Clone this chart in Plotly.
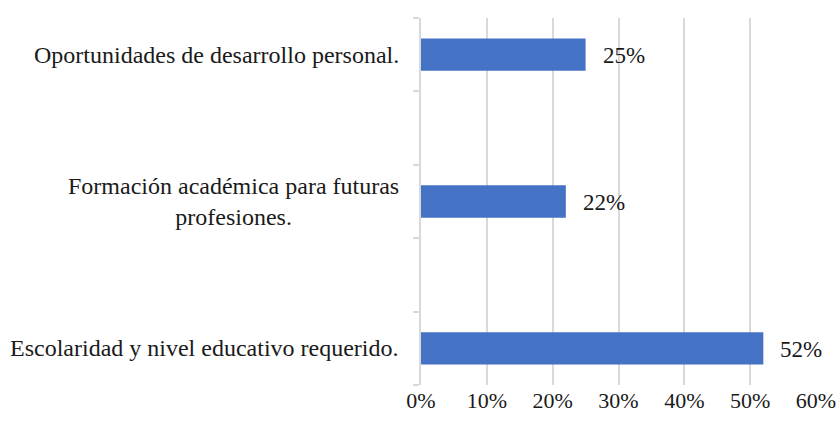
import plotly.graph_objects as go

categories = [
    "Escolaridad y nivel educativo requerido.",
    " ",
    "Formación académica para futuras<br>profesiones.",
    "  ",
    "Oportunidades de desarrollo personal.",
]
bar_categories = [
    "Escolaridad y nivel educativo requerido.",
    "Formación académica para futuras<br>profesiones.",
    "Oportunidades de desarrollo personal.",
]
values = [0.52, 0.22, 0.25]
value_labels = ["52%", "22%", "25%"]
x_tickvals = [0, 0.1, 0.2, 0.3, 0.4, 0.5, 0.6]
x_ticktext = ["0%", "10%", "20%", "30%", "40%", "50%", "60%"]

FONT = "Liberation Serif"
TXT = "#1a1a1a"
GRID = "#d9d9d9"

fig = go.Figure()
fig.add_trace(go.Bar(
    x=values, y=bar_categories, orientation="h",
    marker=dict(color="#4472C4", line=dict(width=0)),
    hoverinfo="skip",
))

for c, v, t in zip(bar_categories, values, value_labels):
    fig.add_annotation(x=v, y=c, xref="x", yref="y", text=t, showarrow=False,
                       xanchor="left", xshift=15, yshift=-1,
                       font=dict(family=FONT, size=23, color=TXT))

for c in categories:
    if c.strip():
        fig.add_annotation(x=0, y=c, xref="paper", yref="y", text=c, showarrow=False,
                           xanchor="right", xshift=-20, align="center",
                           font=dict(family=FONT, size=24, color=TXT))

fig.update_layout(
    width=839, height=421,
    margin=dict(l=421, r=23, t=18, b=36, autoexpand=False),
    paper_bgcolor="white", plot_bgcolor="white",
    bargap=0.56, showlegend=False,
    font=dict(family=FONT, size=22, color=TXT),
    xaxis=dict(range=[0, 0.6], tickvals=x_tickvals, ticktext=x_ticktext,
               showgrid=True, gridcolor=GRID, gridwidth=2, automargin=False,
               zeroline=False, showline=False, ticks="",
               tickfont=dict(family=FONT, size=22, color=TXT)),
    yaxis=dict(type="category", categoryorder="array", categoryarray=categories,
               range=[-0.5, 4.5], tickson="boundaries", ticks="outside",
               ticklen=6, tickwidth=2, tickcolor=GRID, automargin=False,
               showticklabels=False, showgrid=False, zeroline=False,
               showline=True, linecolor=GRID, linewidth=2),
)

fig.write_html("out.html", config={"displayModeBar": False},
               post_script="document.body.style.margin='0';document.body.style.overflow='hidden';")
